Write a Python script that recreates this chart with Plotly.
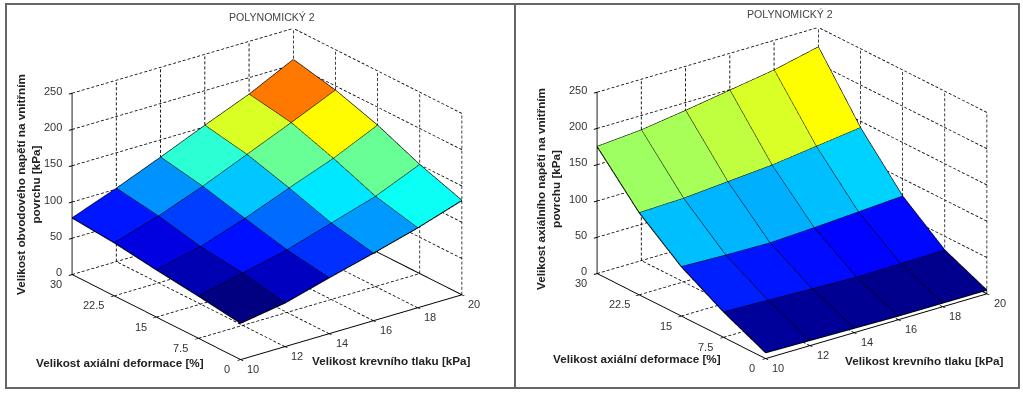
import math
import plotly.graph_objects as go

pressure = [10, 12, 14, 16, 18, 20]
strain = [0, 7.5, 15, 22.5, 30]
stress_ticks = [0, 50, 100, 150, 200, 250]
strain_labels = ["0", "7.5", "15", "22.5", "30"]

hoop = [
    [50, 60, 77, 93, 110, 130],
    [58, 72, 86, 105, 124, 150],
    [65, 79, 100, 124, 147, 175],
    [73, 92, 115, 141, 167, 194],
    [78, 101, 126, 152, 177, 207],
]
axial = [
    [8, 7, 6, 5, 5, 5],
    [35, 33, 31, 29, 30, 31],
    [68, 66, 65, 68, 72, 76],
    [113, 115, 120, 125, 133, 141],
    [175, 180, 189, 199, 209, 223],
]
hoop_limits = [50, 205]
axial_limits = [2, 212]

title_text = "POLYNOMICKÝ 2"
xlabel = "Velikost krevního tlaku [kPa]"
ylabel = "Velikost axiální deformace [%]"
zlabel_hoop = "Velikost obvodového napětí na vnitřním<br>povrchu [kPa]"
zlabel_axial = "Velikost axiálního napětí na vnitřním<br>povrchu [kPa]"

W, H = 1023, 393
JET = [[0, "rgb(0,0,128)"], [0.125, "rgb(0,0,255)"], [0.375, "rgb(0,255,255)"],
       [0.625, "rgb(255,255,0)"], [0.875, "rgb(255,0,0)"], [1, "rgb(128,0,0)"]]

theta = math.radians(22.6)
phi = math.radians(232.7)
R = 2.0
eye = dict(x=R*math.cos(theta)*math.cos(phi), y=R*math.cos(theta)*math.sin(phi), z=R*math.sin(theta))
TICK_FONT = dict(family="Liberation Sans, Arial", size=11, color="#333")


def surface_traces(z, limits, scene):
    nx, ny = len(pressure), len(strain)
    xs, ys, zs, a, b, c, cell = [], [], [], [], [], [], []
    for j in range(ny):
        for i in range(nx):
            xs.append(pressure[i]); ys.append(strain[j]); zs.append(z[j][i])
    for j in range(ny-1):
        for i in range(nx-1):
            p = j*nx+i
            a += [p, p]; b += [p+1, p+nx+1]; c += [p+nx+1, p+nx]
            cell += [z[j][i], z[j][i]]
    mesh = go.Mesh3d(x=xs, y=ys, z=zs, i=a, j=b, k=c, intensity=cell, intensitymode="cell",
                     colorscale=JET, cmin=limits[0], cmax=limits[1], showscale=False, flatshading=True,
                     lighting=dict(ambient=1, diffuse=0, specular=0, roughness=1, fresnel=0),
                     scene=scene, hoverinfo="skip")
    lx, ly, lz = [], [], []
    for j in range(ny):
        lx += pressure + [None]; ly += [strain[j]]*nx + [None]; lz += list(z[j]) + [None]
    for i in range(nx):
        lx += [pressure[i]]*ny + [None]; ly += strain + [None]; lz += [z[j][i] for j in range(ny)] + [None]
    edges = go.Scatter3d(x=lx, y=ly, z=lz, mode="lines", line=dict(color="black", width=2),
                         scene=scene, hoverinfo="skip", showlegend=False)
    return [mesh, edges]


def grid_traces(scene):
    x0, x1 = pressure[0], pressure[-1]
    y0, y1 = strain[0], strain[-1]
    z0, z1 = stress_ticks[0], stress_ticks[-1]
    lx, ly, lz = [], [], []

    def seg(p, q, n):
        # n short dashes between p and q
        for k in range(n):
            t0, t1 = k/n, (k+0.6)/n
            for v, s in zip((lx, ly, lz), range(3)):
                v.extend([p[s]+(q[s]-p[s])*t0, p[s]+(q[s]-p[s])*t1, None])
    for x in pressure:
        seg((x, y0, z0), (x, y1, z0), 38); seg((x, y1, z0), (x, y1, z1), 36)
    for y in strain:
        seg((x0, y, z0), (x1, y, z0), 46); seg((x1, y, z0), (x1, y, z1), 36)
    for v in stress_ticks:
        seg((x0, y1, v), (x1, y1, v), 46); seg((x1, y0, v), (x1, y1, v), 38)
    dashes = go.Scatter3d(x=lx, y=ly, z=lz, mode="lines", line=dict(color="black", width=1.6),
                          scene=scene, hoverinfo="skip", showlegend=False)
    floor_edge = go.Scatter3d(x=[x1, x1], y=[y0, y1], z=[z0, z0], mode="lines", line=dict(color="black", width=2),
                              scene=scene, hoverinfo="skip", showlegend=False)
    return [dashes, floor_edge]


def tick_notes():
    out = []
    def add(x, y, z, text, dx, dy, anchor="center"):
        out.append(dict(x=x, y=y, z=z, text=text, showarrow=False, xshift=dx, yshift=dy, xanchor=anchor,
                        yanchor="middle", font=TICK_FONT))
    for v in pressure:
        add(v, strain[0], 0, str(v), 13, -10)
    for v, t in zip(strain, strain_labels):
        add(pressure[0], v, 0, t, -13 - 2.3*(len(t)-1), -10)
    for v in stress_ticks:
        add(pressure[0], strain[-1], v, str(v), -8, 2, "right")
    return out


def scene_layout(cx, cy):
    hw, hh = 230, 190
    ax = lambda rng, vals: dict(range=rng, tickvals=vals, showticklabels=False,
        showgrid=False, zeroline=False, showbackground=False, showspikes=False, showline=True,
        linecolor="black", linewidth=2, ticks="outside", ticklen=4, tickcolor="black", tickwidth=2,
        title=dict(text=""))
    return dict(
        domain=dict(x=[(cx-hw)/W, (cx+hw)/W], y=[1-(cy+hh)/H, 1-(cy-hh)/H]),
        aspectmode="manual", aspectratio=dict(x=1.464, y=1.464, z=1.034),
        camera=dict(eye=eye, up=dict(x=0, y=0, z=1), center=dict(x=0, y=0, z=0), projection=dict(type="orthographic")),
        xaxis=ax([10, 20], pressure), yaxis=ax([0, 30], strain), zaxis=ax([0, 250], stress_ticks),
        bgcolor="white", annotations=tick_notes(),
    )


fig = go.Figure()
for t in surface_traces(hoop, hoop_limits, "scene") + grid_traces("scene"):
    fig.add_trace(t)
for t in surface_traces(axial, axial_limits, "scene2") + grid_traces("scene2"):
    fig.add_trace(t)


def note(text, x, y, size=11.7, bold=False, angle=0, color="#222"):
    return dict(text=f"<b>{text}</b>" if bold else text, x=x/W, y=1-y/H, xref="paper", yref="paper",
                showarrow=False, textangle=angle, xanchor="center", yanchor="middle",
                font=dict(family="Liberation Sans, Arial", size=size, color=color))


annotations = [
    note(title_text, 272, 17, 10.6, color="#444"), note(title_text, 790, 14, 10.6, color="#444"),
    note(ylabel, 120, 362, bold=True), note(xlabel, 391, 360, bold=True),
    note(ylabel, 637, 358, bold=True), note(xlabel, 924, 360, bold=True),
    note(zlabel_hoop, 28, 185, bold=True, angle=-90), note(zlabel_axial, 548, 189, bold=True, angle=-90),
]
shapes = [
    dict(type="rect", xref="paper", yref="paper", x0=6/W, x1=1019/W, y0=1-388/H, y1=1-4/H, line=dict(color="#666", width=2)),
    dict(type="line", xref="paper", yref="paper", x0=515/W, x1=515/W, y0=1-388/H, y1=1-4/H, line=dict(color="#666", width=2)),
]
fig.update_layout(width=W, height=H, margin=dict(l=0, r=0, t=0, b=0), paper_bgcolor="white", showlegend=False,
                  scene=scene_layout(266.5, 193.5), scene2=scene_layout(791.7, 192.5),
                  annotations=annotations, shapes=shapes)
fig.write_html("out.html", config=dict(displayModeBar=False),
               post_script="document.body.style.margin='0';document.documentElement.style.overflow='hidden';")
